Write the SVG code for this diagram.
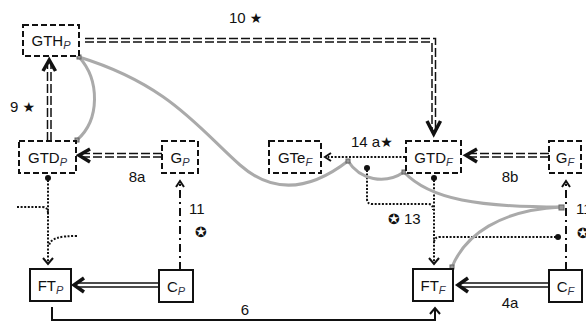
<svg xmlns="http://www.w3.org/2000/svg" width="586" height="323" viewBox="0 0 586 323">
<style>
text{font-family:"Liberation Sans","DejaVu Sans",sans-serif;font-size:15px;fill:#111}
.lbl{font-size:15px}
.sub{font-size:11px;font-style:italic;fill:#334}
.sym{font-family:"DejaVu Sans",sans-serif;font-size:14px}
.dbox{fill:#fff;stroke:#111;stroke-width:2;stroke-dasharray:6 3}
.sbox{fill:#fff;stroke:#111;stroke-width:2}
.dd{fill:none;stroke:#111;stroke-width:1.5;stroke-dasharray:9 3}
.dbl{fill:none;stroke:#111;stroke-width:1.5}
.chev{fill:none;stroke:#111;stroke-width:3.5;stroke-linejoin:miter;stroke-linecap:butt}
.chs{fill:none;stroke:#111;stroke-width:2}
.dot{fill:none;stroke:#111;stroke-width:2;stroke-dasharray:2 1.6}
.dash{fill:none;stroke:#111;stroke-width:2;stroke-dasharray:8 4 2 4}
.solid{fill:none;stroke:#111;stroke-width:2}
.gray{fill:none;stroke:#aaa;stroke-width:3}
.gm{fill:#999;stroke:#666;stroke-width:1}
</style>
<g id="connectors">
  <path class="dd" d="M85,38.5 H435.5 V131"/>
  <path class="dd" d="M85,42 H432 V131"/>
  <polyline class="chev" points="427,121 433.7,134 440.5,121"/>
  <path class="dd" d="M47.5,141 V64"/>
  <path class="dd" d="M51,141 V64"/>
  <polyline class="chev" points="43,71 49.2,60 55.5,71"/>
  <path class="dd" d="M162,153.5 H82"/>
  <path class="dd" d="M162,157 H82"/>
  <polyline class="chev" points="90,149 79,155.3 90,162"/>
  <path class="dd" d="M549,153.5 H469"/>
  <path class="dd" d="M549,157 H469"/>
  <polyline class="chev" points="477,149 466,155.3 477,162"/>
  <path class="dbl" d="M159,283 H77"/>
  <path class="dbl" d="M159,287 H77"/>
  <polyline class="chev" points="84,278 74,285 84,292"/>
  <path class="dbl" d="M549,283 H461"/>
  <path class="dbl" d="M549,287 H461"/>
  <polyline class="chev" points="468,278 458,285 468,292"/>
  <path class="solid" d="M52,307 V320 H435 V309"/>
  <polyline class="chs" points="430,314 435,308 440,314"/>
  <path class="dash" d="M180,270 V184"/>
  <polyline class="chs" points="176,187 180,181 184,187"/>
  <path class="dash" d="M566,270 V184"/>
  <polyline class="chs" points="562,187 566,181 570,187"/>
  <circle cx="48" cy="178" r="3" fill="#111"/>
  <path class="dot" d="M48,180 V264"/>
  <polyline class="chs" points="43,258 48,264 53,258"/>
  <path class="dot" d="M17,207 H42 Q48,207 48,213"/>
  <path class="dot" d="M77,236 C60,236 50,238 49,246"/>
  <circle cx="434" cy="178" r="3" fill="#111"/>
  <path class="dot" d="M434,180 V264"/>
  <polyline class="chs" points="429,258 434,264 439,258"/>
  <circle cx="367" cy="168" r="3" fill="#111"/>
  <path class="dot" d="M367,170 V199 Q367,204 372,204 H428 Q433,204 433,210"/>
  <circle cx="558" cy="237" r="3" fill="#111"/>
  <path class="dot" d="M556,237 H440 Q434,237 434,243"/>
  <path class="dot" d="M405,157 H328"/>
  <polyline class="chs" points="331,153 325,157 331,161"/>
  <path class="gray" d="M79,57 C100,80 100,120 77,140"/>
  <path class="gray" d="M79,57 C170,85 200,130 240,165 C265,187 300,198 348,161"/>
  <path class="gray" d="M348,161 C360,180 385,185 404,172"/>
  <path class="gray" d="M404,172 C430,200 480,207 561,207"/>
  <path class="gray" d="M561,207 C500,210 465,235 452,267"/>
  <rect class="gm" x="77" y="55" width="4" height="4"/>
  <rect class="gm" x="75" y="138" width="4" height="4"/>
  <rect class="gm" x="346" y="159" width="4" height="4"/>
  <rect class="gm" x="402" y="170" width="4" height="4"/>
  <rect class="gm" x="559" y="205" width="5" height="5"/>
  <rect class="gm" x="450" y="265" width="4" height="4"/>
  <text class="lbl" x="229" y="23">10 <tspan class="sym">★</tspan></text>
  <text class="lbl" x="10" y="112">9 <tspan class="sym">★</tspan></text>
  <text class="lbl" x="137" y="182" text-anchor="middle">8a</text>
  <text class="lbl" x="510" y="182" text-anchor="middle">8b</text>
  <text class="lbl" x="189" y="214">11</text>
  <text class="sym" x="195" y="237">✪</text>
  <text class="lbl" x="576" y="214">11</text>
  <text class="sym" x="577" y="238">✪</text>
  <text class="lbl" x="245" y="315" text-anchor="middle">6</text>
  <text class="lbl" x="510" y="308" text-anchor="middle">4a</text>
  <text class="lbl" x="388" y="224"><tspan class="sym">✪</tspan> 13</text>
  <text class="lbl" x="351" y="147">14 a<tspan class="sym">★</tspan></text>
</g>
<g id="GTH_P"><rect class="dbox" x="23" y="25" width="56" height="31"/><text x="51" y="46" text-anchor="middle">GTH<tspan class="sub" dy="3">P</tspan></text></g>
<g id="GTD_P"><rect class="dbox" x="19" y="141" width="57" height="32"/><text x="47.5" y="163" text-anchor="middle">GTD<tspan class="sub" dy="3">P</tspan></text></g>
<g id="G_P"><rect class="dbox" x="162" y="141" width="36" height="32"/><text x="180" y="163" text-anchor="middle">G<tspan class="sub" dy="3">P</tspan></text></g>
<g id="GTe_F"><rect class="dbox" x="269" y="141" width="52" height="32"/><text x="295" y="163" text-anchor="middle">GTe<tspan class="sub" dy="3">F</tspan></text></g>
<g id="GTD_F"><rect class="dbox" x="406" y="141" width="55" height="32"/><text x="433.5" y="163" text-anchor="middle">GTD<tspan class="sub" dy="3">F</tspan></text></g>
<g id="G_F"><rect class="dbox" x="549" y="141" width="32" height="32"/><text x="565" y="163" text-anchor="middle">G<tspan class="sub" dy="3">F</tspan></text></g>
<g id="FT_P"><rect class="sbox" x="30" y="269" width="41" height="32"/><text x="50.5" y="291" text-anchor="middle">FT<tspan class="sub" dy="3">P</tspan></text></g>
<g id="C_P"><rect class="sbox" x="159" y="270" width="34" height="32"/><text x="176" y="292" text-anchor="middle">C<tspan class="sub" dy="3">P</tspan></text></g>
<g id="FT_F"><rect class="sbox" x="413" y="269" width="40" height="32"/><text x="433" y="291" text-anchor="middle">FT<tspan class="sub" dy="3">F</tspan></text></g>
<g id="C_F"><rect class="sbox" x="549" y="270" width="33" height="32"/><text x="565.5" y="292" text-anchor="middle">C<tspan class="sub" dy="3">F</tspan></text></g>
</svg>
